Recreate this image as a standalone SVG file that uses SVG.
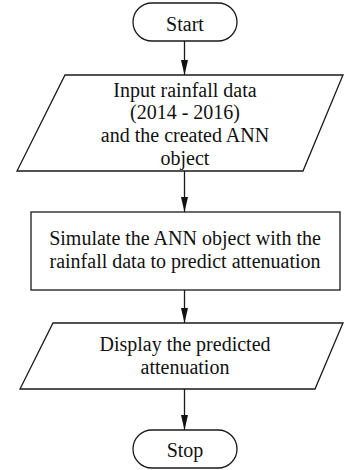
<svg xmlns="http://www.w3.org/2000/svg" width="345" height="470" viewBox="0 0 345 470">
<style>
.shape{fill:#fff;stroke:#1a1a1a;stroke-width:1.3}
.lbl{font-family:"Liberation Serif","Times New Roman",serif;font-size:20px;fill:#111;text-anchor:middle}
.conn{stroke:#1a1a1a;stroke-width:1.3;fill:none}
</style>
<defs>
<marker id="ah" markerUnits="userSpaceOnUse" markerWidth="16" markerHeight="10" refX="15" refY="4" orient="auto" viewBox="0 0 16 8">
<path d="M0,0.5 L15,4 L0,7.5 Z" fill="#111"/>
</marker>
</defs>
<rect width="345" height="470" fill="#fff"/>
<g id="connectors">
<line class="conn" x1="184.5" y1="41" x2="184.5" y2="75" marker-end="url(#ah)"/>
<line class="conn" x1="184.5" y1="171" x2="184.5" y2="212" marker-end="url(#ah)"/>
<line class="conn" x1="184.5" y1="290" x2="184.5" y2="323" marker-end="url(#ah)"/>
<line class="conn" x1="184.5" y1="389" x2="184.5" y2="430" marker-end="url(#ah)"/>
</g>
<g id="start">
<rect class="shape" x="133" y="3" width="104" height="38" rx="19" ry="19"/>
<text class="lbl" x="185" y="31">Start</text>
</g>
<g id="input">
<polygon class="shape" points="65,75 343,75 303,171 17,171"/>
<text class="lbl" x="185" y="96.5">Input rainfall data</text>
<text class="lbl" x="185" y="119">(2014 - 2016)</text>
<text class="lbl" x="185" y="142">and the created ANN</text>
<text class="lbl" x="185" y="164.5">object</text>
</g>
<g id="simulate">
<rect class="shape" x="31" y="212" width="309" height="78"/>
<text class="lbl" x="185" y="245">Simulate the ANN object with the</text>
<text class="lbl" x="185" y="268">rainfall data to predict attenuation</text>
</g>
<g id="display">
<polygon class="shape" points="53,323 343,323 315,389 20,389"/>
<text class="lbl" x="185" y="351">Display the predicted</text>
<text class="lbl" x="185" y="374">attenuation</text>
</g>
<g id="stop">
<rect class="shape" x="133" y="430" width="104" height="38" rx="19" ry="19"/>
<text class="lbl" x="185" y="457">Stop</text>
</g>
</svg>
